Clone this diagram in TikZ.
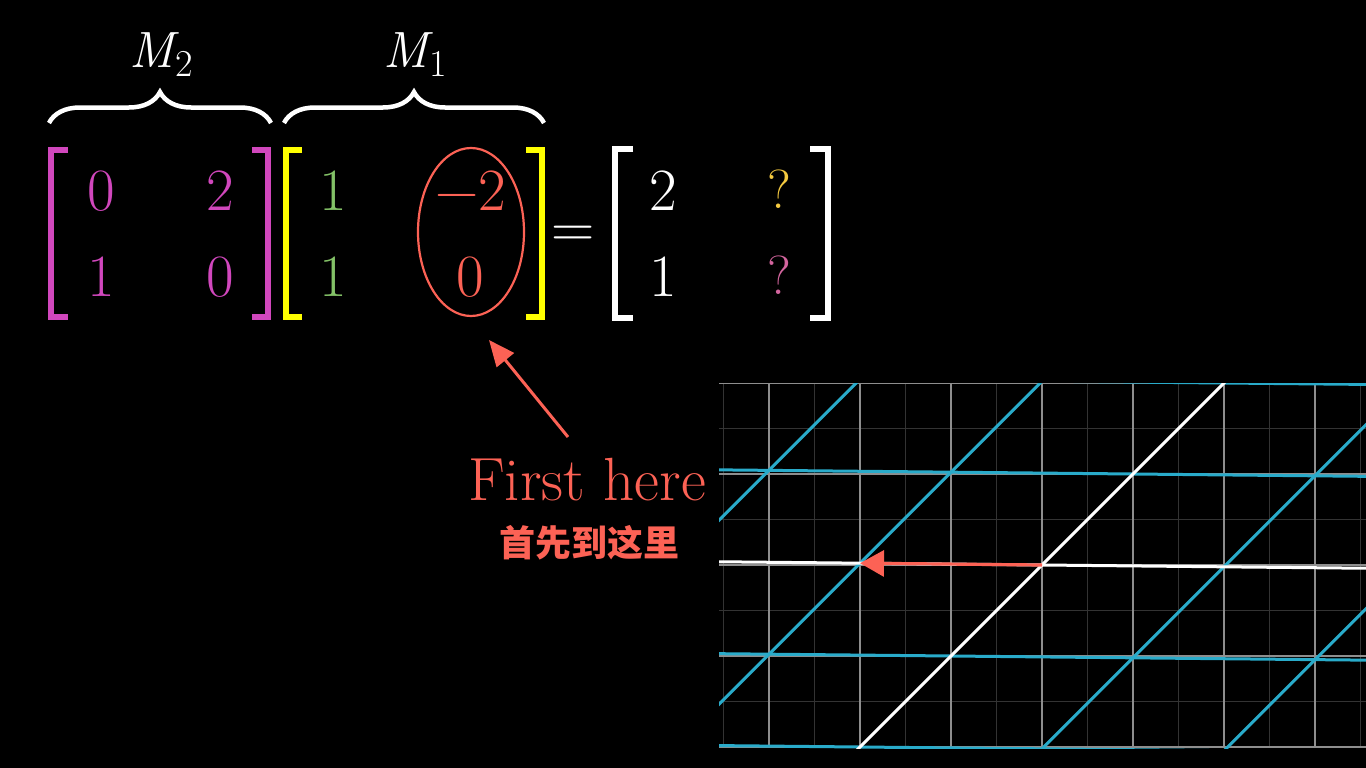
\documentclass[tikz,border=0pt]{standalone}
\usepackage{fontspec}
\newfontfamily\cjk{Noto Sans CJK SC}
\usetikzlibrary{shapes.geometric,decorations.pathreplacing,arrows.meta}
\definecolor{pinkc}{HTML}{D147BD}
\definecolor{yellowc}{HTML}{FFFF00}
\definecolor{greenc}{HTML}{83C167}
\definecolor{redc}{HTML}{FC6255}
\definecolor{qyellow}{HTML}{F4C940}
\definecolor{qpink}{HTML}{D3659E}
\definecolor{gridblue}{HTML}{29ABCA}
\definecolor{majorgray}{HTML}{8E8E8E}
\definecolor{minorgray}{HTML}{333333}
\begin{document}
\begin{tikzpicture}[x=1pt,y=-1pt,
  entry/.style={font=\fontsize{60}{70}\selectfont, inner sep=0pt},
  qentry/.style={font=\fontsize{55}{64}\selectfont, inner sep=0pt},
  bigtext/.style={font=\fontsize{61}{68}\selectfont, inner sep=0pt},
  bracketline/.style={line width=6pt, line join=miter, line cap=butt},
  bracelabel/.style={font=\fontsize{51}{58}\selectfont, text=white, inner sep=0pt},
  bracepath/.style={white, line width=4.5pt, decorate,
     decoration={brace, amplitude=31pt}},
  minorline/.style={minorgray, line width=1pt},
  majorline/.style={majorgray, line width=1.5pt},
  tline/.style={gridblue, line width=3pt},
  axisline/.style={white, line width=3pt},
  redarrow/.style={redc, line width=3.2pt, -{Triangle[length=24pt,width=26pt]}}
]
\useasboundingbox[fill=black] (0,0) rectangle (1366,768);

% ---------- braces and labels ----------
\draw[bracepath] (49,123) -- (271,123);
\draw[bracepath] (284,123) -- (544,123);
\node[bracelabel, anchor=base] (m2) at (161,68)
  {\itshape M\upshape\kern1pt\raisebox{-9pt}{\fontsize{38}{44}\selectfont 2}};
\node[bracelabel, anchor=base] (m1) at (415,68)
  {\itshape M\upshape\kern1pt\raisebox{-9pt}{\fontsize{38}{44}\selectfont 1}};

% ---------- matrix M2 (pink) ----------
\draw[bracketline, pinkc] (68,150) -- (51,150) -- (51,317) -- (68,317);
\draw[bracketline, pinkc] (252,150) -- (268,150) -- (268,317) -- (252,317);
\node[entry, text=pinkc] (a11) at (101,191) {0};
\node[entry, text=pinkc] (a12) at (220,191) {2};
\node[entry, text=pinkc] (a21) at (101,277) {1};
\node[entry, text=pinkc] (a22) at (220,277) {0};

% ---------- matrix M1 (yellow) ----------
\draw[bracketline, yellowc] (302,150) -- (286,150) -- (286,317) -- (302,317);
\draw[bracketline, yellowc] (526,150) -- (542,150) -- (542,317) -- (526,317);
\node[entry, text=greenc] (b11) at (333,191) {1};
\node[entry, text=greenc] (b21) at (333,277) {1};
\node[entry, text=redc] (b12) at (471,191) {−2};
\node[entry, text=redc] (b22) at (470,277) {0};
\node[ellipse, draw=redc, line width=2.2pt, minimum width=106pt,
      minimum height=168pt, inner sep=0pt] (circ) at (471,232) {};

% ---------- equals and result ----------
\node[entry, text=white, anchor=base] (eq) at (573,247) {=};
\draw[bracketline, white] (633,149) -- (615,149) -- (615,318) -- (633,318);
\draw[bracketline, white] (810,149) -- (828,149) -- (828,318) -- (810,318);
\node[entry, text=white] (c11) at (663,191) {2};
\node[entry, text=white] (c21) at (663,277) {1};
\node[qentry, text=qyellow] (c12) at (779,189) {?};
\node[qentry, text=qpink] (c22) at (779,275) {?};

% ---------- annotation ----------
\node[bigtext, text=redc, anchor=base] (fh) at (587,500) {First here};
\node[font=\cjk\bfseries\fontsize{36}{40}\selectfont, text=redc, inner sep=0pt]
  (cn) at (589,543) {首先到这里};
\coordinate (atail) at (568,437);
\coordinate (atip) at (489,340);
\draw[redc, line width=3pt, -{Triangle[length=26pt,width=22pt]}] (atail) -- (atip);

% ---------- grid ----------
\begin{scope}
\clip (719,383) rectangle (1366,748);
\begin{scope}[shift={(1042,565)}, x=91pt, y=91pt]
  \draw[minorline, step=0.5] (-4,-2) grid (4,2);
  \draw[majorline, step=1] (-4,-2) grid (4,2);
  % transformed grid: i -> (1,1), j -> (-2,0.02)
  \foreach \k in {-3,-2,-1,1,2,3} {
    \draw[tline] ({\k+6},{\k-0.06}) -- ({\k-6},{\k+0.06});
  }
  \foreach \m in {-3,-2,-1,1,2,3} {
    \draw[tline] ({-2*\m-4},{0.02*\m-4}) -- ({-2*\m+4},{0.02*\m+4});
  }
  \draw[axisline] (6,-0.06) -- (-6,0.06);
  \draw[axisline] (-4,-4) -- (4,4);
  \coordinate (O) at (0,0);
  \coordinate (J) at (-2,0.02);
  \draw[redarrow] (O) -- (J);
\end{scope}
\end{scope}
\end{tikzpicture}
\end{document}
